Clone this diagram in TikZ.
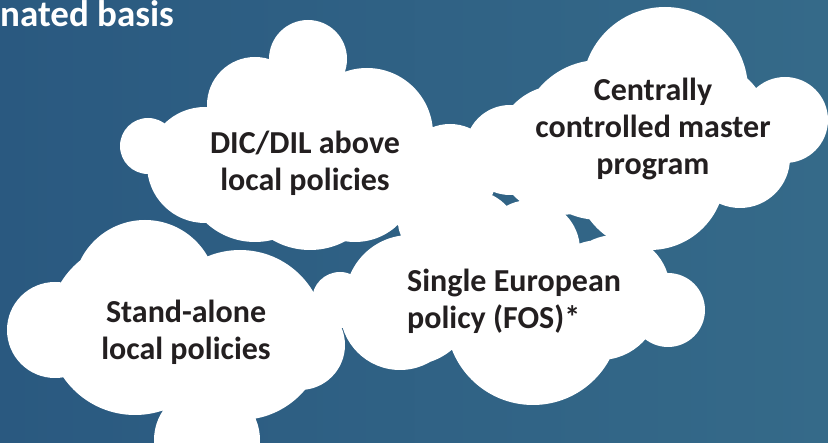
\documentclass[tikz,border=0pt]{standalone}
\usepackage{fontspec}
\setmainfont{Carlito}
\definecolor{bgleft}{RGB}{42,89,128}
\definecolor{bgright}{RGB}{53,106,137}
\definecolor{inktext}{RGB}{35,31,32}
\tikzset{
  puff/.style={fill=white},
  cloudtext/.style={font=\fontsize{32}{37}\selectfont\bfseries,text=inktext,align=center,inner sep=0pt},
}
\begin{document}
\begin{tikzpicture}[x=1pt,y=-1pt]
  \useasboundingbox (0,0) rectangle (828,443);
  \shade[left color=bgleft,right color=bgright] (0,0) rectangle (828,443);
  % heading, cut at the left edge
  \node[font=\fontsize{37}{40}\selectfont\bfseries,text=white,anchor=base west,inner sep=0pt] (heading) at (0,27) {nated basis};
  % clouds, each one a bunch of circles
  \fill[puff] (148,146) circle (28pt) (205,165) circle (58pt) (255,105) circle (48pt) (308,59) circle (39pt) (367,134) circle (66pt) (300,130) circle (70pt) (255,170) circle (72pt) (310,175) circle (75pt) (355,180) circle (62pt) (450,172) circle (48pt);
  \fill[puff] (510,150) circle (45pt) (560,150) circle (65pt) (600,140) circle (80pt) (665,90) circle (83pt) (700,130) circle (70pt) (785,120) circle (43pt) (740,158) circle (50pt) (650,175) circle (75pt);
  \fill[puff] (340,300) circle (28pt) (410,300) circle (65pt) (400,310) circle (60pt) (430,222) circle (32pt) (470,240) circle (50pt) (530,250) circle (50pt) (533,318) circle (87pt) (615,290) circle (55pt) (668,310) circle (37pt) (600,300) circle (60pt);
  \fill[puff] (55,330) circle (48pt) (145,292) circle (72pt) (135,328) circle (87pt) (240,335) circle (85pt) (207,440) circle (53pt) (300,345) circle (45pt);
  % labels
  \node[cloudtext] (dicdil) at (305,163) {DIC/DIL above\\local policies};
  \node[cloudtext] (master) at (653,129) {Centrally\\controlled master\\program};
  \node[cloudtext,align=left,anchor=west] (single) at (407,301) {Single European\\policy (FOS)*};
  \node[cloudtext] (standalone) at (186,332) {Stand-alone\\local policies};
\end{tikzpicture}
\end{document}
